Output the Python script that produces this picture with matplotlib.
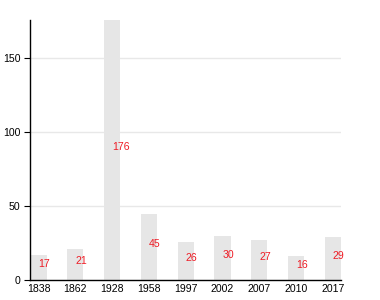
import matplotlib
matplotlib.use("Agg")
import matplotlib.pyplot as plt

years = ["1838", "1862", "1928", "1958", "1997", "2002", "2007", "2010", "2017"]
counts = [17, 21, 176, 45, 26, 30, 27, 16, 29]

plt.rcParams.update({"font.family": ["Liberation Sans", "DejaVu Sans"]})

fig = plt.figure(figsize=(3.8, 3.0), dpi=100)
ax = fig.add_axes([30 / 380, 20 / 300, 311 / 380, 260 / 300])

x = list(range(len(years)))
ax.bar(x, counts, width=0.44, color="#e6e6e6", zorder=2)
for xi, v in zip(x, counts):
    ax.annotate(str(v), (xi, v / 2), xytext=(0, 3), textcoords="offset pixels",
                ha="left", va="center", color="#ee1c25", fontsize=7.6, zorder=3,
                annotation_clip=False)

ax.set_xlim(-0.23, 8.22)
ax.set_ylim(0, 176)
ax.set_yticks([0, 50, 100, 150])
ax.set_xticks(x)
ax.set_xticklabels(years)
ax.grid(axis="y", color="#e8e8e8", lw=1, zorder=0)
ax.tick_params(axis="x", length=0, labelsize=7.6, pad=3)
ax.tick_params(axis="y", length=4, width=0.8, labelsize=7.6, pad=3)
for s in ("top", "right"):
    ax.spines[s].set_visible(False)
for s in ("left", "bottom"):
    ax.spines[s].set_linewidth(1)

fig.savefig("out.png", dpi=100)
